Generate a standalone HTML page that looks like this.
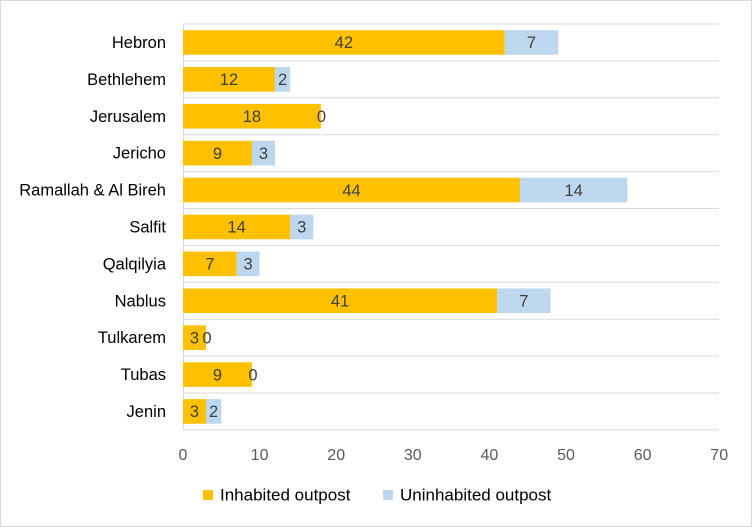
<!DOCTYPE html>
<html><head><style>
body{margin:0;background:#fff}
svg text{font-family:"Liberation Sans",sans-serif}
.v{font-size:16.5px;fill:#404040;text-anchor:middle}
.c{font-size:16.5px;fill:#000;text-anchor:end}
.t{font-size:16px;fill:#595959;text-anchor:middle}
</style></head><body>
<svg width="752" height="527" viewBox="0 0 752 527" xmlns="http://www.w3.org/2000/svg">
<rect x="0.5" y="0.5" width="751" height="526" fill="#fff" stroke="#d9d9d9"/>
<g stroke="#d9d9d9">
<line x1="183" x2="719" y1="24" y2="24"/><line x1="183" x2="719" y1="60.9" y2="60.9"/><line x1="183" x2="719" y1="97.8" y2="97.8"/><line x1="183" x2="719" y1="134.7" y2="134.7"/><line x1="183" x2="719" y1="171.6" y2="171.6"/><line x1="183" x2="719" y1="208.5" y2="208.5"/><line x1="183" x2="719" y1="245.4" y2="245.4"/><line x1="183" x2="719" y1="282.3" y2="282.3"/><line x1="183" x2="719" y1="319.2" y2="319.2"/><line x1="183" x2="719" y1="356.1" y2="356.1"/><line x1="183" x2="719" y1="393" y2="393"/><line x1="183" x2="719" y1="429.9" y2="429.9"/>
<line x1="183.5" x2="183.5" y1="24" y2="430"/>
</g>
<g fill="#ffc000">
<rect x="183" y="30.15" width="321.72" height="24.6"/>
<rect x="183" y="67.05" width="91.92" height="24.6"/>
<rect x="183" y="103.95" width="137.88" height="24.6"/>
<rect x="183" y="140.85" width="68.94" height="24.6"/>
<rect x="183" y="177.75" width="337.04" height="24.6"/>
<rect x="183" y="214.65" width="107.24" height="24.6"/>
<rect x="183" y="251.55" width="53.62" height="24.6"/>
<rect x="183" y="288.45" width="314.06" height="24.6"/>
<rect x="183" y="325.35" width="22.98" height="24.6"/>
<rect x="183" y="362.25" width="68.94" height="24.6"/>
<rect x="183" y="399.15" width="22.98" height="24.6"/>
</g>
<g fill="#bdd7ee">
<rect x="504.72" y="30.15" width="53.62" height="24.6"/>
<rect x="274.92" y="67.05" width="15.32" height="24.6"/>
<rect x="251.94" y="140.85" width="22.98" height="24.6"/>
<rect x="520.04" y="177.75" width="107.24" height="24.6"/>
<rect x="290.24" y="214.65" width="22.98" height="24.6"/>
<rect x="236.62" y="251.55" width="22.98" height="24.6"/>
<rect x="497.06" y="288.45" width="53.62" height="24.6"/>
<rect x="205.98" y="399.15" width="15.32" height="24.6"/>
</g>
<g>
<text class="c" x="166" y="48">Hebron</text>
<text class="c" x="166" y="84.9">Bethlehem</text>
<text class="c" x="166" y="121.8">Jerusalem</text>
<text class="c" x="166" y="158.7">Jericho</text>
<text class="c" x="166" y="195.6">Ramallah &amp; Al Bireh</text>
<text class="c" x="166" y="232.5">Salfit</text>
<text class="c" x="166" y="269.4">Qalqilyia</text>
<text class="c" x="166" y="306.3">Nablus</text>
<text class="c" x="166" y="343.2">Tulkarem</text>
<text class="c" x="166" y="380.1">Tubas</text>
<text class="c" x="166" y="417">Jenin</text>
</g>
<g>
<text class="v" x="343.86" y="48.2">42</text><text class="v" x="531.53" y="48.2">7</text>
<text class="v" x="228.96" y="85.1">12</text><text class="v" x="282.58" y="85.1">2</text>
<text class="v" x="251.94" y="122">18</text><text class="v" x="321.5" y="122">0</text>
<text class="v" x="217.47" y="158.9">9</text><text class="v" x="263.43" y="158.9">3</text>
<text class="v" x="351.52" y="195.8">44</text><text class="v" x="573.66" y="195.8">14</text>
<text class="v" x="236.62" y="232.7">14</text><text class="v" x="301.73" y="232.7">3</text>
<text class="v" x="209.81" y="269.6">7</text><text class="v" x="248.11" y="269.6">3</text>
<text class="v" x="340.03" y="306.5">41</text><text class="v" x="523.87" y="306.5">7</text>
<text class="v" x="194.49" y="343.4">3</text><text class="v" x="207" y="343.4">0</text>
<text class="v" x="217.47" y="380.3">9</text><text class="v" x="253" y="380.3">0</text>
<text class="v" x="194.49" y="417.2">3</text><text class="v" x="213.64" y="417.2">2</text>
</g>
<g>
<text class="t" x="183" y="460">0</text><text class="t" x="259.6" y="460">10</text><text class="t" x="336.2" y="460">20</text><text class="t" x="412.8" y="460">30</text><text class="t" x="489.4" y="460">40</text><text class="t" x="566" y="460">50</text><text class="t" x="642.6" y="460">60</text><text class="t" x="719.2" y="460">70</text>
</g>
<rect x="203" y="490" width="10" height="10" fill="#ffc000"/><text x="220" y="500.5" font-size="17" fill="#000">Inhabited outpost</text>
<rect x="383" y="490" width="10" height="10" fill="#bdd7ee"/><text x="400" y="500.5" font-size="17" fill="#000">Uninhabited outpost</text>
</svg>
</body></html>
